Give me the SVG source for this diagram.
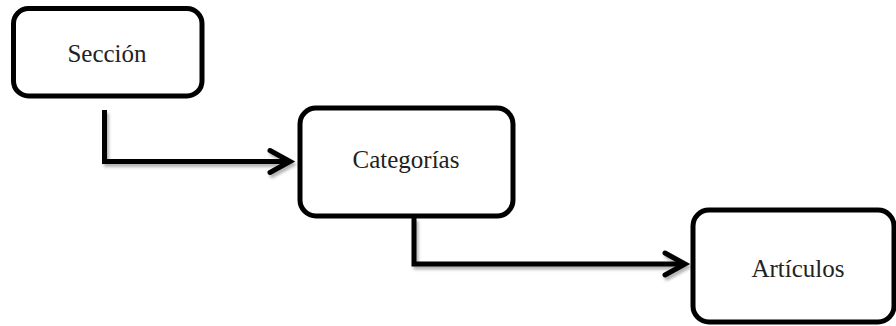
<svg xmlns="http://www.w3.org/2000/svg" width="896" height="326" viewBox="0 0 896 326">
  <style>
    .box { fill: #ffffff; stroke: #000000; stroke-width: 5; }
    .lbl { font-family: "Liberation Serif", "Times New Roman", serif; font-size: 25px; fill: #222222; text-anchor: middle; }
    .conn { fill: none; stroke: #000000; stroke-width: 5; stroke-linejoin: miter; stroke-linecap: butt; }
  </style>
  <defs>
    <filter id="sh" x="-10%" y="-30%" width="120%" height="160%">
      <feDropShadow dx="2" dy="3" stdDeviation="1.5" flood-color="#000" flood-opacity="0.3"/>
    </filter>
    <marker id="arr" markerUnits="userSpaceOnUse" viewBox="-26 -16 32 32" refX="0" refY="0" markerWidth="32" markerHeight="32" orient="auto">
      <path d="M-20,-11 L0,0 L-20,11" fill="none" stroke="#000" stroke-width="5" stroke-linejoin="miter" stroke-linecap="round"/>
    </marker>
  </defs>
  <rect width="896" height="326" fill="#ffffff"/>

  <g id="connectors" filter="url(#sh)">
    <path class="conn" d="M104.5,110 V161.5 H290" marker-end="url(#arr)"/>
    <path class="conn" d="M414,218 V264 H685" marker-end="url(#arr)"/>
  </g>

  <g id="seccion">
    <rect class="box" x="13.5" y="8.5" width="188.5" height="87.5" rx="15" ry="15"/>
    <text class="lbl" x="107" y="62">Sección</text>
  </g>
  <g id="categorias">
    <rect class="box" x="300" y="108" width="213" height="108" rx="16" ry="16"/>
    <text class="lbl" x="406" y="168">Categorías</text>
  </g>
  <g id="articulos">
    <rect class="box" x="693" y="210" width="201" height="112" rx="16" ry="16"/>
    <text class="lbl" x="798" y="277">Artículos</text>
  </g>
</svg>
